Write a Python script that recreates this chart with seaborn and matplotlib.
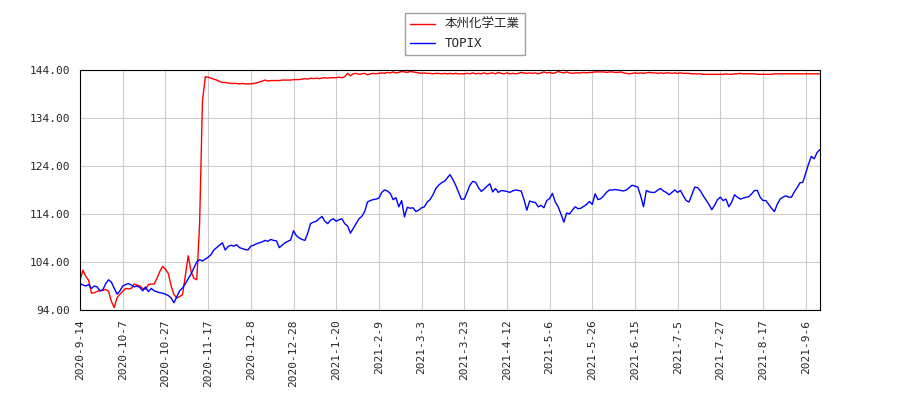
import matplotlib
matplotlib.use("Agg")
import matplotlib.pyplot as plt
import numpy as np
import pandas as pd
import seaborn as sns

# tick labels, one per 15 trading days
tick_labels = ["2020-9-14", "2020-10-7", "2020-10-27", "2020-11-17", "2020-12-8",
               "2020-12-28", "2021-1-20", "2021-2-9", "2021-3-3", "2021-3-23",
               "2021-4-12", "2021-5-6", "2021-5-26", "2021-6-15", "2021-7-5",
               "2021-7-27", "2021-8-17", "2021-9-6"]

stock = [
    100.2, 102.3, 101, 100.2, 97.5, 97.6, 97.9, 98, 98.1, 98.3, 97.9, 95.8, 94.5, 96.6, 97.3,
    97.9, 98.5, 98.4, 98.5, 99.4, 99.2, 99, 98.5, 98.3, 99.3, 99.4, 99.4, 100.6, 102, 103.1,
    102.5, 101.6, 99, 97.2, 96.5, 96.8, 97.2, 101.2, 105.3, 102, 100.6, 100.3, 112, 137.5, 142.6,
    142.5, 142.3, 142.1, 141.9, 141.6, 141.4, 141.4, 141.3, 141.2, 141.2, 141.2, 141.1, 141.2, 141.1, 141.1,
    141.1, 141.2, 141.3, 141.5, 141.7, 141.9, 141.7, 141.8, 141.8, 141.8, 141.8, 141.9, 141.9, 141.9, 141.9,
    142, 142, 142, 142.1, 142.2, 142.1, 142.3, 142.2, 142.3, 142.2, 142.3, 142.4, 142.3, 142.4, 142.4,
    142.4, 142.5, 142.4, 142.6, 143.3, 142.8, 143.2, 143.3, 143.1, 143.2, 143.3, 143, 143.2, 143.3, 143.2,
    143.3, 143.4, 143.3, 143.5, 143.4, 143.6, 143.4, 143.5, 143.7, 143.6, 143.5, 143.7, 143.6, 143.5, 143.4,
    143.3, 143.4, 143.3, 143.3, 143.2, 143.3, 143.3, 143.2, 143.3, 143.2, 143.3, 143.2, 143.3, 143.2, 143.2,
    143.2, 143.3, 143.2, 143.4, 143.2, 143.3, 143.2, 143.4, 143.2, 143.3, 143.4, 143.2, 143.5, 143.3, 143.2,
    143.4, 143.2, 143.3, 143.2, 143.3, 143.5, 143.4, 143.3, 143.4, 143.3, 143.4, 143.2, 143.4, 143.6, 143.4,
    143.5, 143.3, 143.4, 143.7, 143.5, 143.4, 143.6, 143.4, 143.3, 143.4, 143.4, 143.4, 143.5, 143.4, 143.5,
    143.5, 143.6, 143.6, 143.6, 143.6, 143.5, 143.6, 143.6, 143.5, 143.5, 143.6, 143.4, 143.3, 143.2, 143.3,
    143.4, 143.3, 143.4, 143.3, 143.4, 143.5, 143.4, 143.4, 143.3, 143.4, 143.3, 143.4, 143.4, 143.3, 143.4,
    143.3, 143.4, 143.3, 143.3, 143.3, 143.2, 143.2, 143.2, 143.2, 143.1, 143.1, 143.1, 143.1, 143.1, 143.1,
    143.1, 143.1, 143.2, 143.1, 143.1, 143.2, 143.2, 143.3, 143.2, 143.2, 143.2, 143.2, 143.2, 143.1, 143.1,
    143.1, 143.1, 143.1, 143.1, 143.2, 143.2, 143.2, 143.2, 143.2, 143.2, 143.2, 143.2, 143.2, 143.2, 143.2,
    143.2, 143.2, 143.2, 143.2, 143.2, 143.2,
]

topix = [
    99.5, 99.2, 99, 99.3, 98.5, 99, 98.8, 98, 98.2, 99.5, 100.3, 99.8, 98.5, 97.3, 98,
    99, 99.3, 99.5, 99.2, 98.8, 99, 98.7, 98, 98.8, 97.8, 98.5, 98, 97.8, 97.6, 97.5,
    97.3, 97, 96.5, 95.5, 96.8, 98, 98.6, 99.5, 100.5, 101.5, 102.8, 104, 104.5, 104.2, 104.6,
    105, 105.5, 106.5, 107, 107.5, 108, 106.5, 107.2, 107.5, 107.3, 107.6, 107, 106.8, 106.6, 106.5,
    107.3, 107.5, 107.8, 108, 108.2, 108.5, 108.3, 108.7, 108.5, 108.4, 107, 107.5, 108, 108.3, 108.6,
    110.5, 109.5, 109, 108.7, 108.5, 110, 112, 112.3, 112.5, 113, 113.5, 112.5, 112, 112.7, 113,
    112.5, 112.8, 113, 112, 111.5, 110, 111, 112, 113, 113.5, 114.5, 116.5, 116.8, 117, 117.1,
    117.3, 118.5, 119, 118.8, 118.3, 117, 117.4, 115.5, 116.8, 113.4, 115.4, 115.2, 115.3, 114.5, 114.8,
    115.3, 115.5, 116.5, 117, 118, 119.3, 120, 120.5, 120.8, 121.5, 122.2, 121.2, 120, 118.5, 117.1,
    117.1, 118.5, 120, 120.8, 120.6, 119.5, 118.7, 119.2, 119.8, 120.3, 118.6, 119.3, 118.5, 118.9, 118.8,
    118.7, 118.5, 118.8, 119, 118.9, 118.8, 117, 114.8, 116.7, 116.5, 116.4, 115.5, 115.8, 115.3, 116.8,
    117.2, 118.3, 116.5, 115.5, 114, 112.3, 114.2, 114, 114.8, 115.5, 115.1, 115.2, 115.6, 116, 116.6,
    116, 118.2, 117, 117.2, 117.8, 118.5, 119, 119, 119.1, 119, 118.9, 118.8, 119, 119.5, 120,
    119.8, 119.6, 117.8, 115.5, 118.9, 118.6, 118.5, 118.5, 119, 119.3, 118.8, 118.5, 118, 118.5, 119,
    118.5, 118.9, 117.8, 116.8, 116.5, 118, 119.6, 119.5, 118.8, 117.8, 116.9, 116, 114.9, 115.8, 117,
    117.5, 116.8, 117.1, 115.5, 116.5, 118, 117.5, 117.1, 117.3, 117.5, 117.6, 118.2, 118.9, 118.9, 117.5,
    116.8, 116.8, 116, 115.2, 114.5, 116, 117.1, 117.5, 117.8, 117.5, 117.5, 118.6, 119.5, 120.5, 120.6,
    122.5, 124.4, 126, 125.5, 126.8, 127.4,
]

yticks = [94, 104, 114, 124, 134, 144]

sns.set_style("white")
plt.rcParams['font.family'] = ['DejaVu Sans Mono', 'Noto Sans CJK JP']

df = pd.DataFrame({"day": np.arange(len(stock)), "本州化学工業": stock, "TOPIX": topix})
long = df.melt(id_vars="day", var_name="series", value_name="value")

fig = plt.figure(figsize=(9, 4), dpi=100)
ax = fig.add_axes([0.089, 0.225, 0.822, 0.6])
sns.lineplot(data=long, x="day", y="value", hue="series",
             palette={"本州化学工業": "red", "TOPIX": "blue"},
             linewidth=1, ax=ax)

ax.set_xlim(0, len(stock) - 1)
ax.set_ylim(94, 144)
ax.set_yticks(yticks)
ax.set_yticklabels(["%.2f" % v for v in yticks], fontsize=8)
ax.set_xticks(np.arange(0, 15 * len(tick_labels), 15))
ax.set_xticklabels(tick_labels, rotation=90, fontsize=8)
ax.grid(True, color="#cccccc", linewidth=0.8)
ax.set_xlabel("")
ax.set_ylabel("")
for s in ax.spines.values():
    s.set_color("black")
    s.set_linewidth(0.8)

ax.legend(loc="lower center", bbox_to_anchor=(0.52, 1.035), fontsize=9,
          frameon=True, edgecolor="#888888", fancybox=False, title=None)

fig.savefig("out.png")
